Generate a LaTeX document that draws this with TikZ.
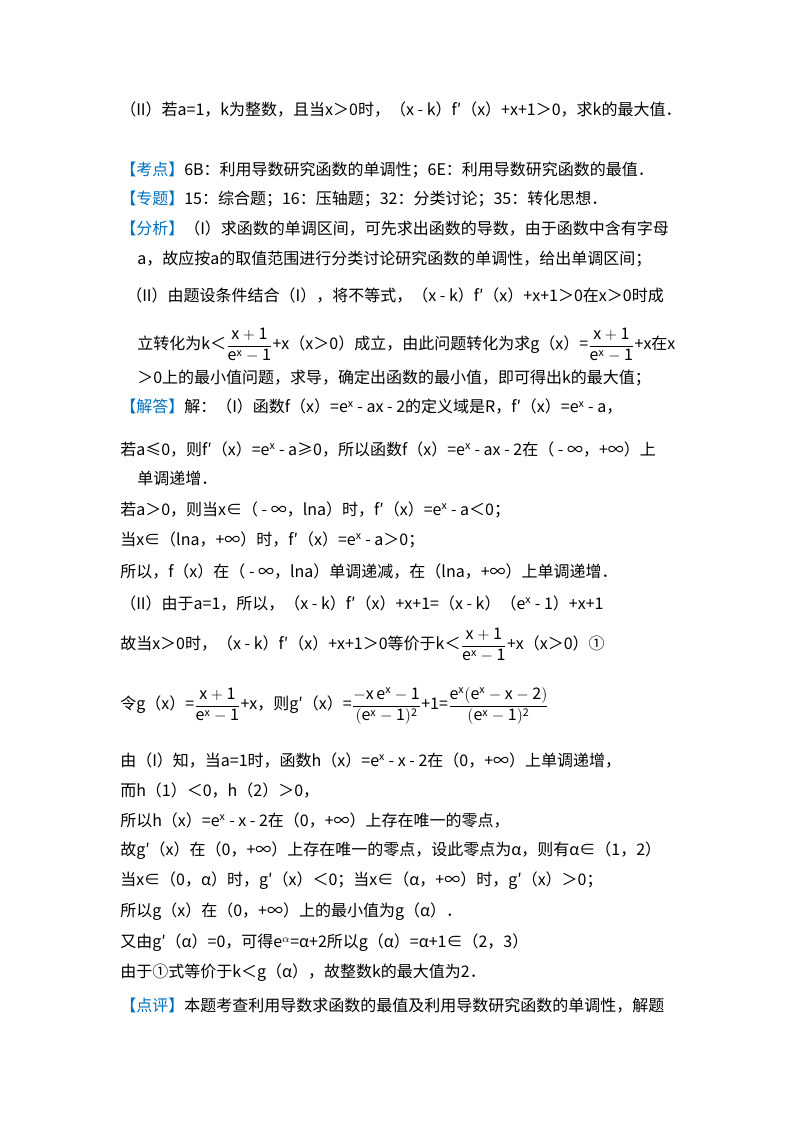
\documentclass[tikz,border=0pt]{standalone}
\usepackage{fontspec}
\setmainfont{Noto Sans CJK SC}
\usepackage{amsmath}
\definecolor{tagblue}{RGB}{0,112,192}
\newcommand{\tg}[1]{{\color{tagblue}【#1】}}
\newcommand{\fr}[2]{$\displaystyle\frac{\mathrm{#1}}{\mathrm{#2}}$}
\begin{document}
\begin{tikzpicture}[x=0.75pt,y=-0.75pt,
 ln/.style={anchor=west,inner sep=0pt,font=\fontsize{12pt}{14pt}\selectfont}]
\useasboundingbox (0,0) rectangle (800,1132);
\fill[white] (0,0) rectangle (800,1132);
\node[ln] (l1) at (120,110) {（II）若a=1，k为整数，且当x＞0时，（x - k）f′（x）+x+1＞0，求k的最大值．};
\node[ln] (l2) at (120,170) {\tg{考点}6B：利用导数研究函数的单调性；6E：利用导数研究函数的最值．};
\node[ln] (l3) at (120,199) {\tg{专题}15：综合题；16：压轴题；32：分类讨论；35：转化思想．};
\node[ln] (l4) at (120,229) {\tg{分析}（I）求函数的单调区间，可先求出函数的导数，由于函数中含有字母};
\node[ln] (l5) at (137,259) {a，故应按a的取值范围进行分类讨论研究函数的单调性，给出单调区间；};
\node[ln] (l6) at (126,296) {（II）由题设条件结合（I），将不等式，（x - k）f′（x）+x+1＞0在x＞0时成};
\node[ln] (l7) at (137,345) {立转化为k＜\fr{x+1}{e^x-1}+x（x＞0）成立，由此问题转化为求g（x）=\fr{x+1}{e^x-1}+x在x};
\node[ln] (l8) at (137,378) {＞0上的最小值问题，求导，确定出函数的最小值，即可得出k的最大值；};
\node[ln] (l9) at (120,407) {\tg{解答}解：（I）函数f（x）=e$^{\mathrm{x}}$ - ax - 2的定义域是R，f′（x）=e$^{\mathrm{x}}$ - a，};
\node[ln] (l10) at (120,449) {若a≤0，则f′（x）=e$^{\mathrm{x}}$ - a≥0，所以函数f（x）=e$^{\mathrm{x}}$ - ax - 2在（ - ∞，+∞）上};
\node[ln] (l11) at (137,478) {单调递增．};
\node[ln] (l12) at (120,510) {若a＞0，则当x∈（ - ∞，lna）时，f′（x）=e$^{\mathrm{x}}$ - a＜0；};
\node[ln] (l13) at (120,540) {当x∈（lna，+∞）时，f′（x）=e$^{\mathrm{x}}$ - a＞0；};
\node[ln] (l14) at (120,571) {所以，f（x）在（ - ∞，lna）单调递减，在（lna，+∞）上单调递增．};
\node[ln] (l15) at (120,603) {（II）由于a=1，所以，（x - k）f′（x）+x+1=（x - k）（e$^{\mathrm{x}}$ - 1）+x+1};
\node[ln] (l16) at (120,645) {故当x＞0时，（x - k）f′（x）+x+1＞0等价于k＜\fr{x+1}{e^x-1}+x（x＞0）①};
\node[ln] (l17) at (120,706) {令g（x）=\fr{x+1}{e^x-1}+x，则g′（x）=$\displaystyle\frac{\mathrm{-x\,e^x-1}}{\mathrm{(e^x-1)^2}}$+1=$\displaystyle\frac{\mathrm{e^x(e^x-x-2)}}{\mathrm{(e^x-1)^2}}$};
\node[ln] (l18) at (120,760) {由（I）知，当a=1时，函数h（x）=e$^{\mathrm{x}}$ - x - 2在（0，+∞）上单调递增，};
\node[ln] (l19) at (120,790) {而h（1）＜0，h（2）＞0，};
\node[ln] (l20) at (120,820) {所以h（x）=e$^{\mathrm{x}}$ - x - 2在（0，+∞）上存在唯一的零点，};
\node[ln] (l21) at (120,851) {故g′（x）在（0，+∞）上存在唯一的零点，设此零点为α，则有α∈（1，2）};
\node[ln] (l22) at (120,881) {当x∈（0，α）时，g′（x）＜0；当x∈（α，+∞）时，g′（x）＞0；};
\node[ln] (l23) at (120,912) {所以g（x）在（0，+∞）上的最小值为g（α）．};
\node[ln] (l24) at (120,943) {又由g′（α）=0，可得e$^{\alpha}$=α+2所以g（α）=α+1∈（2，3）};
\node[ln] (l25) at (120,973) {由于①式等价于k＜g（α），故整数k的最大值为2．};
\node[ln] (l26) at (120,1006) {\tg{点评}本题考查利用导数求函数的最值及利用导数研究函数的单调性，解题};
\end{tikzpicture}
\end{document}
